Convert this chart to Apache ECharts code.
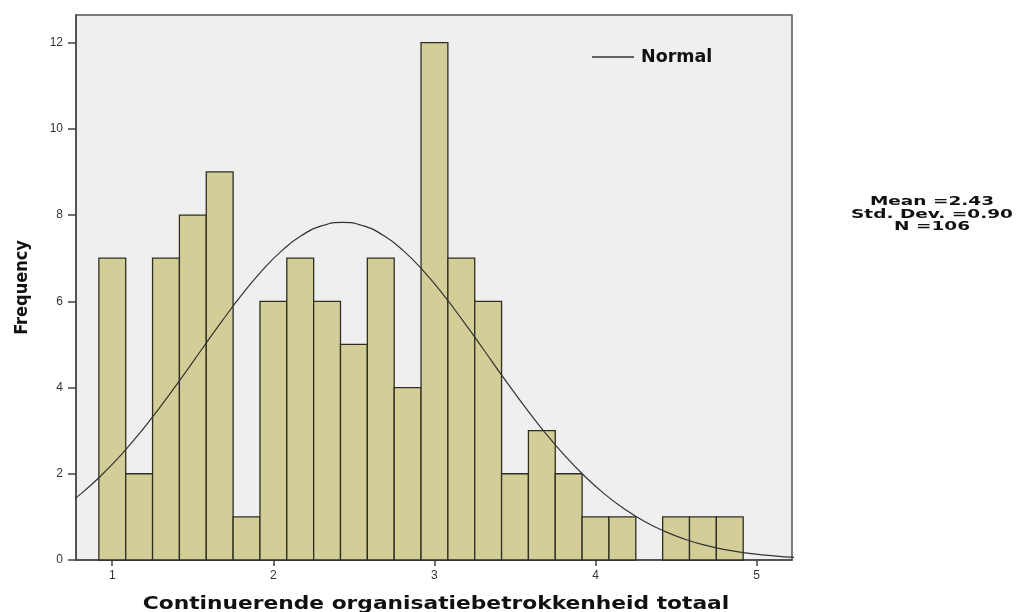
<!DOCTYPE html>
<html>
<head>
<meta charset="utf-8">
<script src="https://cdn.jsdelivr.net/npm/echarts@6/dist/echarts.min.js"></script>
<style>
html,body{margin:0;padding:0;background:#ffffff;}
#chart{width:1016px;height:612px;}
</style>
</head>
<body>
<div id="chart"></div>
<script>
// Histogram bins (lower edge of first bin, bin width) and frequencies
const binStart = 0.917;
const binWidth = 1 / 6;
const counts = [7, 2, 7, 8, 9, 1, 6, 7, 6, 5, 7, 4, 12, 7, 6, 2, 3, 2, 1, 1, 0, 1, 1, 1];

const curveX = [0.68, 0.805, 0.93, 1.055, 1.18, 1.305, 1.43, 1.555, 1.68, 1.805, 1.93, 2.055, 2.18, 2.305, 2.43, 2.555, 2.68, 2.805, 2.93, 3.055, 3.18, 3.305, 3.43, 3.555, 3.68, 3.805, 3.93, 4.055, 4.18, 4.305, 4.43, 4.555, 4.68, 4.805, 4.93, 5.055, 5.18, 5.305];
const curveY = [1.183, 1.534, 1.953, 2.438, 2.985, 3.585, 4.224, 4.882, 5.534, 6.153, 6.711, 7.180, 7.535, 7.756, 7.831, 7.756, 7.535, 7.180, 6.711, 6.153, 5.534, 4.882, 4.224, 3.585, 2.985, 2.438, 1.953, 1.534, 1.183, 0.894, 0.663, 0.482, 0.344, 0.241, 0.165, 0.111, 0.0735, 0.0477];

const xTicks = [1, 2, 3, 4, 5];
const yTicks = [0, 2, 4, 6, 8, 10, 12];

const statsLines = ['Mean =2.43', 'Std. Dev. =0.90', 'N =106'];
const xTitle = 'Continuerende organisatiebetrokkenheid totaal';
const yTitle = 'Frequency';
const curveName = 'Normal';

const barData = counts.map((c, i) => [binStart + i * binWidth, binStart + (i + 1) * binWidth, c]);
const lineData = curveX.map((x, i) => [x, curveY[i]]);

const chart = echarts.init(document.getElementById('chart'), null, {renderer: 'canvas'});

const boldFont = '"DejaVu Sans", sans-serif';
const centered = {textAlign: 'center', textVerticalAlign: 'middle', align: 'center', verticalAlign: 'middle'};

chart.setOption({
  animation: false,
  backgroundColor: '#ffffff',
  grid: {
    left: 76, right: 224, top: 15, bottom: 52,
    show: true, backgroundColor: '#efefef', borderColor: '#555555', borderWidth: 1.5
  },
  legend: {
    left: 587, top: 43,
    itemWidth: 42, itemHeight: 1.3, itemGap: 6,
    data: [{name: curveName, icon: 'rect'}],
    textStyle: {fontFamily: boldFont, fontWeight: 'bold', fontSize: 17.5, color: '#111', padding: [0, 0, 0, 2]}
  },
  xAxis: {
    type: 'value',
    min: 0.775, max: 5.22,
    splitLine: {show: false},
    axisLine: {show: true, onZero: false, lineStyle: {color: '#444', width: 1.5}},
    axisTick: {show: true, length: 6, customValues: xTicks, lineStyle: {color: '#444', width: 1.5}},
    axisLabel: {customValues: xTicks, color: '#333', fontSize: 12, margin: 10, fontFamily: 'Liberation Sans, Arial, sans-serif'}
  },
  yAxis: {
    type: 'value',
    min: 0, max: 12.64,
    name: yTitle,
    nameLocation: 'middle',
    nameGap: 45,
    nameRotate: 90,
    nameTextStyle: {fontFamily: '"Liberation Sans Narrow", "DejaVu Sans Condensed", sans-serif', fontWeight: 'bold', fontSize: 18, color: '#111'},
    splitLine: {show: false},
    axisLine: {show: true, lineStyle: {color: '#444', width: 1.5}},
    axisTick: {show: true, length: 8, customValues: yTicks, lineStyle: {color: '#444', width: 1.5}},
    axisLabel: {customValues: yTicks, color: '#333', fontSize: 12, margin: 13, fontFamily: 'Liberation Sans, Arial, sans-serif'}
  },
  graphic: [
    {
      type: 'text', x: 436, y: 605, scaleX: 1.28,
      style: Object.assign({text: xTitle, font: 'bold 17px "DejaVu Sans", sans-serif', fill: '#111'}, centered)
    },
    {
      type: 'text', x: 932, y: 202, scaleX: 1.48,
      style: Object.assign({text: statsLines[0], font: 'bold 12.5px "DejaVu Sans", sans-serif', fill: '#111'}, centered)
    },
    {
      type: 'text', x: 932, y: 215, scaleX: 1.48,
      style: Object.assign({text: statsLines[1], font: 'bold 12.5px "DejaVu Sans", sans-serif', fill: '#111'}, centered)
    },
    {
      type: 'text', x: 932, y: 227, scaleX: 1.48,
      style: Object.assign({text: statsLines[2], font: 'bold 12.5px "DejaVu Sans", sans-serif', fill: '#111'}, centered)
    }
  ],
  series: [
    {
      type: 'custom',
      name: 'Frequency',
      data: barData,
      encode: {x: [0, 1], y: 2},
      renderItem: function (params, api) {
        const h = api.value(2);
        if (!h) return null;
        const p0 = api.coord([api.value(0), h]);
        const p1 = api.coord([api.value(1), 0]);
        return {
          type: 'rect',
          shape: {x: p0[0], y: p0[1], width: p1[0] - p0[0], height: p1[1] - p0[1]},
          style: {fill: '#d3ce97', stroke: '#2e2e22', lineWidth: 1.3}
        };
      },
      z: 2
    },
    {
      type: 'line',
      name: curveName,
      data: lineData,
      smooth: 0.5,
      symbol: 'none',
      lineStyle: {color: '#333333', width: 1.2},
      itemStyle: {color: '#333333'},
      z: 3
    }
  ]
});
</script>
</body>
</html>
